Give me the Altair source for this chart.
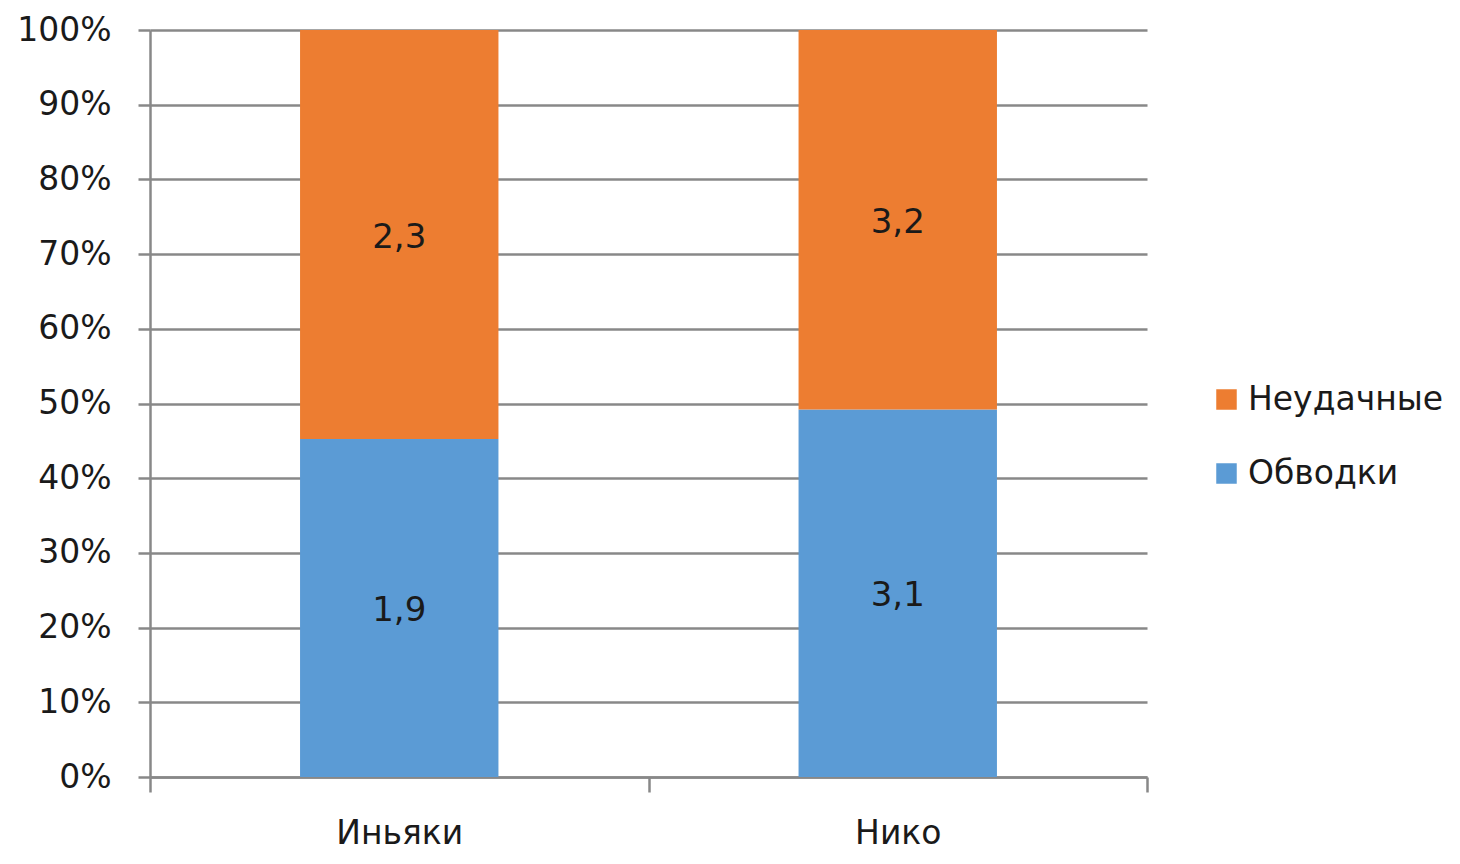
import altair as alt
import pandas as pd

players = ["Иньяки", "Нико"]
series = ["Обводки", "Неудачные"]
dribbles = [1.9, 3.1]
failed = [2.3, 3.2]
y_ticks = [0, 0.1, 0.2, 0.3, 0.4, 0.5, 0.6, 0.7, 0.8, 0.9, 1.0]

rows = []
for i, p in enumerate(players):
    for j, (s, vals) in enumerate(zip(series, [dribbles, failed])):
        v = vals[i]
        rows.append({"player": p, "series": s, "order": j, "value": v,
                     "label": f"{v:.1f}".replace(".", ",")})
df = pd.DataFrame(rows)

FONT = "DejaVu Sans"
GRID = "#888888"
ORANGE = "#ED7D31"
BLUE = "#5B9BD5"
TXT = "#1a1a1a"

base = alt.Chart(df).transform_stack(
    stack="value", groupby=["player"], sort=[alt.SortField("order")],
    offset="normalize", as_=["y0", "y1"]
).transform_calculate(mid="(datum.y0 + datum.y1) / 2")

x = alt.X("player:N", sort=players, title=None,
          scale=alt.Scale(paddingInner=0, paddingOuter=0),
          axis=alt.Axis(labelAngle=0, tickBand="extent", tickSize=15,
                        tickColor=GRID, tickWidth=2.5, domainColor=GRID,
                        domainWidth=2.5, labelFont=FONT, labelFontSize=33,
                        labelColor=TXT, labelPadding=25, grid=False))

bars = base.mark_bar(width=alt.RelativeBandSize(0.398)).encode(
    x=x,
    y=alt.Y("y0:Q", title=None, scale=alt.Scale(domain=[0, 1]),
            axis=alt.Axis(values=y_ticks, format=".0%", tickSize=12,
                          tickColor=GRID, tickWidth=2.5, domainColor=GRID,
                          domainWidth=2.5, gridColor=GRID, gridWidth=2.5,
                          gridOpacity=1, labelFont=FONT, labelFontSize=33,
                          labelColor=TXT, labelPadding=27)),
    y2="y1:Q",
    color=alt.Color("series:N",
                    scale=alt.Scale(domain=["Неудачные", "Обводки"], range=[ORANGE, BLUE]),
                    legend=alt.Legend(title=None, orient="none", legendX=1060, legendY=353,
                                      symbolType="square", symbolSize=420,
                                      symbolStrokeWidth=0, labelFont=FONT,
                                      labelFontSize=33, labelColor=TXT, labelLimit=0,
                                      rowPadding=40, labelOffset=5)),
)

texts = base.mark_text(font=FONT, fontSize=34, color=TXT, dy=3).encode(
    x=alt.X("player:N", sort=players),
    y=alt.Y("mid:Q"),
    text="label:N",
)

chart = alt.layer(bars, texts).properties(
    width=997, height=747,
    autosize=alt.AutoSizeParams(type="none"),
    padding={"left": 142, "top": 22, "right": 305, "bottom": 79},
).configure_view(stroke=None).configure_axis(gridCap="butt")

chart.save("out.html", embed_options={"renderer": "svg", "actions": False})
